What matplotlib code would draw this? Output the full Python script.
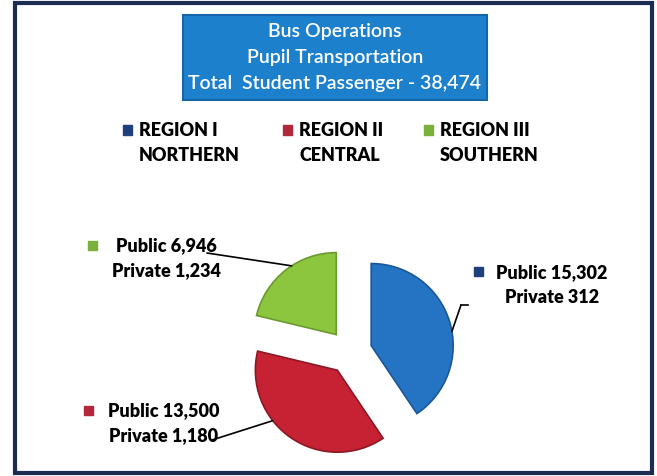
import numpy as np
import matplotlib.pyplot as plt
from matplotlib.patches import Rectangle

# data
regions = ["REGION I\nNORTHERN", "REGION II\nCENTRAL", "REGION III\nSOUTHERN"]
public = [15302, 13500, 6946]
private = [312, 1180, 1234]
totals = [a + b for a, b in zip(public, private)]

colors = ["#2574c4", "#c62233", "#8cc63f"]
edges = ["#1a5799", "#8c1824", "#6b9a2e"]
marker_colors = ["#1f3f7a", "#b2283a", "#7bb13a"]

W, H = 657, 476
fig = plt.figure(figsize=(W / 100, H / 100), dpi=100)
FONT = ["Lato", "DejaVu Sans"]


def fx(x):
    return x / W


def fy(y):
    return 1 - y / H


def square(x, y, color, s=9):
    fig.patches.append(Rectangle((fx(x - s / 2), fy(y + s / 2)), s / W, s / H,
                                 transform=fig.transFigure, color=color))


# outer frame
fig.patches.append(Rectangle((fx(15), fy(473)), (652 - 15) / W, (473 - 3) / H,
                             transform=fig.transFigure, fill=False,
                             edgecolor="#1c2b52", lw=3))

# title box
fig.patches.append(Rectangle((fx(183), fy(100)), (487 - 183) / W, (100 - 15) / H,
                             transform=fig.transFigure, facecolor="#1d80cc",
                             edgecolor="#1566a8", lw=1.5))
title = ["Bus Operations", "Pupil Transportation",
         f"Total  Student Passenger - {sum(totals):,}"]
for i, t in enumerate(title):
    fig.text(fx(335), fy(32 + 26 * i), t, ha="center", va="center",
             color="white", fontsize=14, fontweight="semibold", family=FONT)

# legend
leg_x = [127, 287, 428]
for x, name, c in zip(leg_x, regions, marker_colors):
    square(x, 130, c)
    fig.text(fx(x + 12), fy(143), name, ha="left", va="center", fontsize=13,
             fontweight="heavy", family=FONT, linespacing=1.55)

# pie
r_px = 82
cx, cy = 350, 352
ax = fig.add_axes([fx(cx - 1.5 * r_px), fy(cy + 1.5 * r_px),
                   3 * r_px / W, 3 * r_px / H])
wedges, _ = ax.pie(totals, colors=colors, startangle=90, counterclock=False,
                   explode=[0.27, 0.27, 0.27],
                   wedgeprops=dict(edgecolor="none"))
for w, e in zip(wedges, edges):
    w.set_edgecolor(e)
    w.set_linewidth(1.2)
ax.set_xlim(-1.5, 1.5)
ax.set_ylim(-1.5, 1.5)
ax.set_aspect("auto")
ax.axis("off")

# data labels
label_pos = [(552, 285), (164, 423), (166, 258)]
marker_pos = [(478, 271), (88, 410), (92, 245)]
line_from = [(461, 305), (212, 440), (207, 253)]
anchor_ang = [10, 218, 123]
for i in range(3):
    w = wedges[i]
    a = np.deg2rad(anchor_ang[i])
    xy = (w.center[0] + w.r * np.cos(a), w.center[1] + w.r * np.sin(a))
    lx, ly = line_from[i]
    ax.annotate("", xy=xy, xytext=(lx, H - ly), textcoords="figure pixels",
                arrowprops=dict(arrowstyle="-", color="black", lw=1.2,
                                shrinkA=0, shrinkB=0))
    tx, ty = label_pos[i]
    fig.text(fx(tx), fy(ty), f"Public {public[i]:,}\nPrivate {private[i]:,}",
             ha="center", va="center", fontsize=13, fontweight="heavy",
             family=FONT, linespacing=1.55)
    square(*marker_pos[i], marker_colors[i])

# short tick on the blue leader
fig.add_artist(plt.Line2D([fx(461), fx(468)], [fy(305), fy(305)],
                          color="black", lw=1.2))

fig.savefig("out.png", dpi=100, facecolor="white")
